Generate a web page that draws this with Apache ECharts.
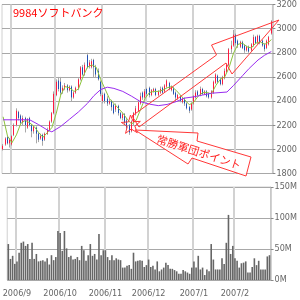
<!DOCTYPE html>
<html><head><meta charset="utf-8">
<script src="https://cdn.jsdelivr.net/npm/echarts@6/dist/echarts.min.js"></script>
<style>html,body{margin:0;padding:0;background:#fff}#c{width:300px;height:300px}</style>
</head><body><div id="c"></div>
<script>
// trading days per month
const aug06 = [28,29,30,31];
const sep06 = [1,4,5,6,7,8,11,12,13,14,15,19,20,21,22,25,26,27,28,29];
const oct06 = [2,3,4,5,6,10,11,12,13,16,17,18,19,20,23,24,25,26,27,30,31];
const nov06 = [1,2,6,7,8,9,10,13,14,15,16,17,20,21,22,24,27,28,29,30];
const dec06 = [1,4,5,6,7,8,11,12,13,14,15,18,19,20,21,22,25,26,27,28,29];
const jan07 = [4,5,9,10,11,12,15,16,17,18,19,22,23,24,25,26,29,30,31];
const feb07 = [1,2,5,6,7,8,9,13,14,15,16,19,20,21,22,23,26];
const monthLabels = ['2006/9','2006/10','2006/11','2006/12','2007/1','2007/2'];

const opens  = [2000,2040,2100,2050,2040,2120,2200,2310,2280,2220,2260,2180,2260,2200,2150,2180,2130,2090,2120,2080,2130,2160,2230,2300,2450,2570,2560,2480,2500,2530,2490,2520,2430,2470,2500,2580,2680,2620,2780,2690,2680,2740,2680,2650,2560,2400,2460,2420,2380,2400,2370,2330,2360,2300,2260,2290,2240,2200,2150,2220,2290,2320,2380,2470,2430,2500,2510,2450,2480,2500,2450,2470,2510,2480,2520,2550,2490,2510,2470,2420,2440,2390,2420,2380,2350,2330,2380,2430,2480,2450,2500,2460,2480,2460,2430,2470,2550,2610,2580,2540,2590,2640,2700,2830,2860,2950,2900,2850,2890,2860,2820,2850,2820,2860,2930,2880,2940,2900,2870,2840,2870,2960];
const closes = [2030,2090,2050,2080,2110,2200,2320,2260,2220,2260,2200,2250,2200,2150,2190,2130,2080,2110,2070,2130,2160,2230,2300,2460,2560,2500,2470,2510,2530,2490,2520,2430,2470,2510,2580,2680,2620,2700,2680,2720,2730,2680,2620,2580,2460,2450,2400,2380,2400,2350,2300,2360,2300,2260,2290,2220,2180,2140,2230,2300,2340,2390,2440,2430,2480,2460,2450,2490,2500,2450,2480,2500,2470,2530,2570,2500,2520,2460,2430,2450,2400,2420,2380,2340,2320,2380,2440,2470,2450,2500,2460,2480,2440,2430,2480,2560,2620,2560,2540,2600,2650,2700,2830,2860,2950,2880,2860,2890,2840,2820,2850,2810,2870,2930,2880,2940,2880,2860,2830,2900,2930,3060];
const highs  = [2045,2100,2110,2095,2120,2215,2340,2320,2290,2280,2270,2260,2270,2210,2200,2190,2140,2130,2130,2140,2180,2240,2310,2480,2580,2600,2600,2530,2550,2540,2530,2530,2480,2520,2590,2690,2700,2720,2800,2740,2750,2750,2700,2670,2570,2470,2470,2440,2420,2410,2380,2380,2370,2310,2300,2300,2260,2210,2240,2310,2360,2410,2470,2480,2500,2510,2520,2500,2510,2510,2490,2520,2520,2540,2580,2560,2530,2520,2480,2460,2450,2430,2430,2390,2360,2390,2450,2490,2490,2520,2510,2490,2490,2470,2490,2570,2630,2620,2600,2610,2670,2710,2840,2900,2990,2960,2910,2900,2900,2870,2860,2860,2880,2950,2940,2950,2950,2910,2880,2910,2940,3070];
const lows   = [1990,2030,2040,2015,2030,2110,2190,2240,2210,2200,2140,2170,2190,2100,2130,2050,2060,2080,2030,2070,2120,2150,2220,2290,2440,2480,2450,2460,2490,2470,2480,2400,2420,2460,2490,2570,2610,2610,2670,2670,2670,2600,2600,2570,2440,2380,2380,2360,2370,2320,2290,2310,2280,2250,2240,2200,2160,2120,2140,2200,2280,2310,2370,2410,2420,2440,2430,2440,2470,2440,2440,2460,2460,2470,2510,2490,2480,2450,2400,2410,2390,2380,2360,2330,2300,2320,2370,2420,2440,2440,2450,2450,2430,2420,2420,2460,2540,2550,2530,2530,2580,2630,2690,2800,2850,2860,2840,2840,2830,2800,2810,2800,2810,2850,2870,2870,2870,2850,2810,2830,2860,2950];
const volumes = [58,34,39,26,30,44,60,62,55,58,34,60,34,42,30,31,32,30,35,25,40,32,37,79,76,47,79,51,37,39,33,34,37,32,55,48,31,40,58,39,42,33,74,40,48,48,37,32,40,32,35,33,32,20,20,23,24,18,44,30,31,32,31,21,24,
  33,21,23,17,30,14,17,20,28,24,18,18,16,14,10,10,16,14,12,10,20,30,20,39,17,20,8,17,14,58,33,17,17,17,35,26,60,105,42,55,35,31,20,27,28,30,12,12,21,35,24,31,17,17,17,38,40];
// moving averages: [bar index, value]
const maShort = [[0,2270],[2,2110],[4,2055],[6,2120],[8,2215],[10,2240],[12,2220],[14,2190],[16,2140],[18,2100],[20,2140],[22,2180],[24,2300],[26,2450],[28,2520],[30,2510],[32,2480],[34,2500],[36,2600],[38,2680],[40,2700],[42,2680],[44,2580],[46,2500],[48,2420],[50,2380],[52,2340],[54,2300],[56,2250],[58,2210],[60,2240],[62,2330],[64,2420],[66,2470],[68,2480],[70,2480],[72,2490],[74,2510],[76,2520],[78,2490],[80,2450],[82,2410],[84,2370],[86,2390],[88,2440],[90,2470],[92,2470],[94,2460],[96,2530],[98,2580],[100,2600],[102,2680],[104,2800],[106,2870],[108,2880],[110,2850],[112,2840],[114,2880],[116,2890],[118,2870],[120,2890],[121,2910]];
const maLong = [[0,2245],[12,2245],[16,2205],[20,2160],[22,2145],[26,2190],[30,2250],[34,2310],[38,2380],[41,2445],[44,2495],[47,2515],[50,2505],[54,2480],[58,2440],[62,2395],[66,2375],[70,2362],[74,2372],[78,2395],[82,2425],[86,2435],[90,2450],[94,2465],[101,2475],[104,2530],[108,2610],[111,2670],[115,2740],[118,2780],[121,2810]];

const months = [['2006/8',aug06],['2006/9',sep06],['2006/10',oct06],['2006/11',nov06],['2006/12',dec06],['2007/1',jan07],['2007/2',feb07]];
const categories = [];
const monthStart = {};
months.forEach(([m, days]) => days.forEach((d, k) => {
  if (k === 0) monthStart[categories.length] = m;
  categories.push(m + '/' + d);
}));
const isLabelIdx = (i) => monthLabels.indexOf(monthStart[i]) >= 0;

const wickData = categories.map((_, i) => [lows[i], lows[i], lows[i], highs[i]]);
const bodyData = categories.map((_, i) => [opens[i], closes[i], Math.min(opens[i], closes[i]), Math.max(opens[i], closes[i])]);

const RED = '#ff1a40', BLUE = '#2050b4', ANN = '#ff3838';
const axisFont = "'Liberation Sans Narrow','DejaVu Sans Condensed',sans-serif";

// star annotation outline
const starPts = [];
for (let k = 0; k < 10; k++) {
  const a = (165 + k * 36) * Math.PI / 180;
  const r = k % 2 === 0 ? 10 : 4;
  starPts.push([131 + r * Math.cos(a), 125 - r * Math.sin(a)]);
}

const chart = echarts.init(document.getElementById('c'), null, {renderer: 'canvas'});
chart.setOption({
  animation: false,
  backgroundColor: '#ffffff',
  title: {text: '9984ソフトバンク', left: 13, top: 7, padding: 0,
    textStyle: {color: '#ff0000', fontSize: 11, fontWeight: 'normal', fontFamily: "'Noto Sans CJK JP',sans-serif"}},
  grid: [
    {left: 2, right: 22, top: 4, height: 169.5, show: true, borderColor: '#d0d0d0', borderWidth: 1},
    {left: 2, right: 22, top: 187, height: 93, show: true, borderColor: '#d0d0d0', borderWidth: 1}
  ],
  xAxis: [
    {type: 'category', gridIndex: 0, data: categories, boundaryGap: true,
      axisLine: {show: false}, axisTick: {show: false}, axisLabel: {show: false},
      splitLine: {show: true, interval: (i) => isLabelIdx(i), lineStyle: {color: '#d2d2d2', width: 2}}},
    {type: 'category', gridIndex: 1, data: categories, boundaryGap: true,
      axisLine: {show: false}, axisTick: {show: false},
      axisLabel: {show: true, interval: (i) => isLabelIdx(i), formatter: (v, i) => monthStart[i] || '',
        color: '#666', fontSize: 9, fontFamily: axisFont, margin: 9},
      splitLine: {show: true, interval: (i) => isLabelIdx(i), lineStyle: {color: '#d2d2d2', width: 2}}}
  ],
  yAxis: [
    {type: 'value', gridIndex: 0, position: 'right', min: 1800, max: 3200, interval: 200,
      axisLine: {show: true, lineStyle: {color: '#c8c8c8'}},
      axisTick: {show: true, length: 3, lineStyle: {color: '#888'}},
      axisLabel: {color: '#666', fontSize: 9, fontFamily: axisFont, margin: 4, formatter: (v) => String(v)},
      splitLine: {show: true, lineStyle: {color: '#a8a8a8', width: 1}}},
    {type: 'value', gridIndex: 1, position: 'right', min: 0, max: 150, interval: 50,
      axisLine: {show: true, lineStyle: {color: '#c8c8c8'}},
      axisTick: {show: true, length: 3, lineStyle: {color: '#888'}},
      axisLabel: {color: '#666', fontSize: 9, fontFamily: axisFont, margin: 4, formatter: (v) => v + 'M'},
      splitLine: {show: true, lineStyle: {color: '#a8a8a8', width: 1}}}
  ],
  series: [
    {type: 'candlestick', xAxisIndex: 0, yAxisIndex: 0, data: wickData, barWidth: 1,
      itemStyle: {color: '#a8a8a8', color0: '#a8a8a8', borderColor: '#a8a8a8', borderColor0: '#a8a8a8', borderColorDoji: '#a8a8a8', borderWidth: 1}},
    {type: 'candlestick', xAxisIndex: 0, yAxisIndex: 0, data: bodyData, barWidth: 1,
      itemStyle: {color: RED, color0: BLUE, borderColor: RED, borderColor0: BLUE, borderWidth: 1}},
    {type: 'line', xAxisIndex: 0, yAxisIndex: 0, data: maShort, showSymbol: false, symbol: 'none',
      lineStyle: {color: '#8cc43c', width: 1}},
    {type: 'line', xAxisIndex: 0, yAxisIndex: 0, data: maLong, showSymbol: false, symbol: 'none',
      lineStyle: {color: '#9a2cf0', width: 1}},
    {type: 'bar', xAxisIndex: 1, yAxisIndex: 1, data: volumes, barWidth: 1.6,
      itemStyle: {color: '#666666'}}
  ],
  graphic: [
    {type: 'polygon', z: 100, silent: true,
      shape: {points: [[132,116],[216.5,55],[211.5,45],[279,20],[232,74],[226,63],[139,127]]},
      style: {fill: 'none', stroke: ANN, lineWidth: 1}},
    {type: 'polygon', z: 100, silent: true, shape: {points: starPts},
      style: {fill: 'none', stroke: ANN, lineWidth: 1}},
    {type: 'polygon', z: 100, silent: true,
      shape: {points: [[135,130],[198,133],[197,141],[251,157],[246,176],[192,158],[188,164]]},
      style: {fill: 'rgba(255,255,255,0.85)', stroke: ANN, lineWidth: 1}},
    {type: 'text', z: 101, silent: true, x: 199, y: 152, rotation: -18 * Math.PI / 180,
      style: {text: '常勝軍団ポイント', fill: '#ff2020', font: "11px 'Noto Sans CJK JP',sans-serif", align: 'center', verticalAlign: 'middle'}}
  ]
});
</script></body></html>
